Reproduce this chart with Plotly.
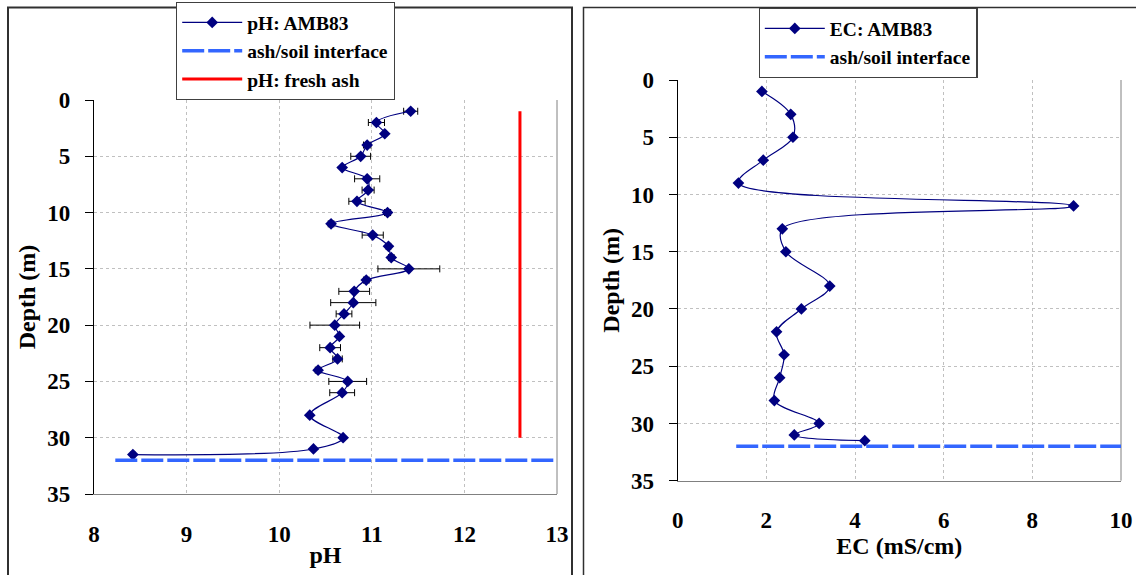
import plotly.graph_objects as go

# ---- pH profile, core AMB83 ----
ph_depth = [1, 2, 3, 4, 5, 6, 7, 8, 9, 10, 11, 12, 13, 14, 15, 16, 17, 18, 19, 20,
            21, 22, 23, 24, 25, 26, 28, 30, 31, 31.5]
ph_value = [11.42, 11.05, 11.14, 10.95, 10.88, 10.68, 10.95, 10.96, 10.84, 11.17,
            10.56, 11.01, 11.18, 11.21, 11.40, 10.94, 10.81, 10.80, 10.70, 10.60,
            10.65, 10.55, 10.63, 10.42, 10.74, 10.68, 10.33, 10.69, 10.37, 8.42]
ph_error = [0.076, 0.087, 0.0, 0.04, 0.107, 0.0, 0.136, 0.065, 0.088, 0.033,
            0.03, 0.114, 0.025, 0.03, 0.334, 0.03, 0.166, 0.244, 0.085, 0.268,
            0.0, 0.112, 0.051, 0.03, 0.204, 0.134, 0.0, 0.0, 0.0, 0.02]

# pH of fresh ash, shown over the sampled depth range
fresh_ash_ph = [12.6, 12.6]
fresh_ash_depth = [1, 30]

# ---- EC profile, core AMB83 ----
ec_depth = [1, 3, 5, 7, 9, 11, 13, 15, 18, 20, 22, 24, 26, 28, 30, 31, 31.5]
ec_value = [1.9, 2.55, 2.6, 1.93, 1.37, 8.93, 2.36, 2.44, 3.43, 2.79, 2.23, 2.40,
            2.30, 2.18, 3.19, 2.63, 4.22]

# ash/soil interface
interface_depth = [32, 32]
interface_ph_x = [8.23, 13]
interface_ec_x = [1.32, 10]

# ---- axis settings ----
ph_ticks = [8, 9, 10, 11, 12, 13]
ec_ticks = [0, 2, 4, 6, 8, 10]
depth_ticks = [0, 5, 10, 15, 20, 25, 30, 35]

W, H = 1136, 575
FONT = "Times New Roman, Liberation Serif, serif"
NAVY = "#000080"
BLUE = "#3366ff"
GRID = "#c0c0c0"


def fx(px):
    return px / W


def fy(py):
    return 1 - py / H


tick_font = dict(family=FONT, size=23, color="black", weight="bold")
title_font = dict(family=FONT, size=24, color="black", weight="bold")

fig = go.Figure()

# pH panel
fig.add_trace(go.Scatter(
    x=ph_value, y=ph_depth, name="pH: AMB83", mode="lines+markers",
    line=dict(color=NAVY, width=1.2, shape="spline", smoothing=1.0),
    marker=dict(symbol="diamond", size=9, color=NAVY),
    error_x=dict(type="data", array=ph_error, color="black", thickness=1, width=3.5),
    xaxis="x", yaxis="y", legend="legend"))
fig.add_trace(go.Scatter(
    x=interface_ph_x, y=interface_depth, name="ash/soil interface", mode="lines",
    line=dict(color=BLUE, width=3.5, dash="22px,4px"),
    xaxis="x", yaxis="y", legend="legend"))
fig.add_trace(go.Scatter(
    x=fresh_ash_ph, y=fresh_ash_depth, name="pH: fresh ash", mode="lines",
    line=dict(color="#ff0000", width=3),
    xaxis="x", yaxis="y", legend="legend"))

# EC panel
fig.add_trace(go.Scatter(
    x=ec_value, y=ec_depth, name="EC: AMB83", mode="lines+markers",
    line=dict(color=NAVY, width=1.2, shape="spline", smoothing=1.0),
    marker=dict(symbol="diamond", size=9, color=NAVY),
    xaxis="x2", yaxis="y2", legend="legend2"))
fig.add_trace(go.Scatter(
    x=interface_ec_x, y=interface_depth, name="ash/soil interface", mode="lines",
    line=dict(color=BLUE, width=3.5, dash="22px,4px"),
    xaxis="x2", yaxis="y2", legend="legend2"))

left_dom = [fx(94), fx(557)]
left_ydom = [fy(494), fy(100)]
right_dom = [fx(677.7), fx(1121)]
right_ydom = [fy(480.7), fy(80)]


def bottom_axis(dom, anchor, rng, ticks, title):
    return dict(domain=dom, anchor=anchor, range=rng, tickvals=ticks, side="bottom",
                showline=True, linecolor="#808080", linewidth=1, ticks="",
                showgrid=True, gridcolor=GRID, griddash="3px,3px", gridwidth=1,
                zeroline=False, tickfont=tick_font, ticklabelstandoff=19,
                title=dict(text=title, font=title_font, standoff=0),
                automargin=False, fixedrange=True)


def top_axis(over, anchor, rng, ticks):
    return dict(overlaying=over, anchor=anchor, range=rng, tickvals=ticks, side="top",
                showline=True, linecolor="black", linewidth=1.2, ticks="outside",
                ticklen=8, tickcolor="black", tickwidth=1, showticklabels=False,
                showgrid=False, zeroline=False, automargin=False, fixedrange=True)


def depth_axis(dom, anchor):
    return dict(domain=dom, anchor=anchor, range=[35, 0], tickvals=depth_ticks,
                showline=True, linecolor="black", linewidth=1.2, ticks="outside",
                ticklen=8, tickcolor="black", tickwidth=1,
                showgrid=True, gridcolor=GRID, griddash="3px,3px", gridwidth=1,
                zeroline=False, tickfont=tick_font, ticklabelstandoff=10,
                title=dict(text="Depth (m)", font=title_font, standoff=4),
                automargin=False, fixedrange=True)


legend_common = dict(
    xanchor="left", yanchor="top", bgcolor="white", bordercolor="#404040",
    borderwidth=1.2, font=dict(family=FONT, size=19.5, color="black", weight="bold"),
    tracegroupgap=0, itemwidth=60)

fig.update_layout(
    width=W, height=H, autosize=False,
    margin=dict(l=0, r=0, t=0, b=0, pad=0),
    paper_bgcolor="white", plot_bgcolor="white",
    template="none",
    font=dict(family=FONT),
    xaxis=bottom_axis(left_dom, "y", [8, 13], ph_ticks, "pH"),
    xaxis3=top_axis("x", "y", [8, 13], ph_ticks),
    yaxis=depth_axis(left_ydom, "x"),
    xaxis2=bottom_axis(right_dom, "y2", [0, 10], ec_ticks, "EC (mS/cm)"),
    xaxis4=top_axis("x2", "y2", [0, 10], ec_ticks),
    yaxis2=depth_axis(right_ydom, "x2"),
    legend=dict(x=fx(176), y=fy(2), **legend_common),
    legend2=dict(x=fx(758.6), y=fy(8), **legend_common),
    showlegend=True,
    shapes=[
        # right-hand border of each plot area
        dict(type="line", xref="x domain", yref="y domain", x0=1, x1=1, y0=0, y1=1,
             line=dict(color="#808080", width=1), layer="below"),
        dict(type="line", xref="x2 domain", yref="y2 domain", x0=1, x1=1, y0=0, y1=1,
             line=dict(color="#808080", width=1), layer="below"),
        # chart frames
        dict(type="rect", xref="paper", yref="paper", x0=fx(8), x1=fx(572),
             y0=-0.05, y1=fy(7.5), line=dict(color="#303030", width=2), layer="below"),
        dict(type="rect", xref="paper", yref="paper", x0=fx(583.5), x1=1.05,
             y0=-0.05, y1=fy(7.5), line=dict(color="#303030", width=1.5), layer="below"),
    ],
)

fig.write_html("out.html")
